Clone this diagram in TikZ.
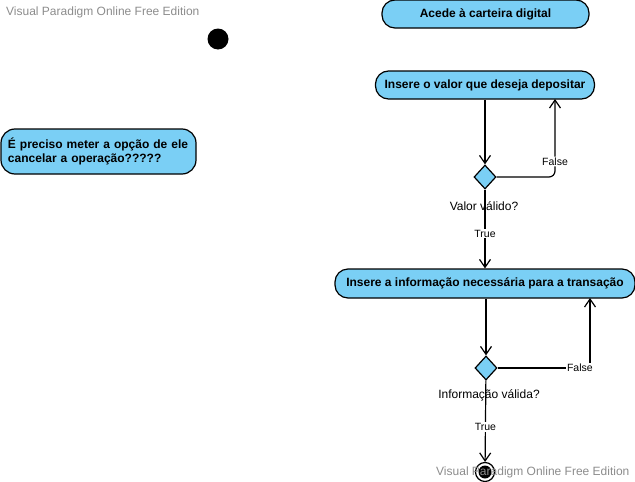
\documentclass[tikz,border=0pt]{standalone}
\usepackage{fontspec}
\setmainfont{Liberation Sans}
\usetikzlibrary{arrows.meta,positioning,shapes.geometric}
\definecolor{vpblue}{RGB}{122,207,245}
\definecolor{wmgray}{RGB}{140,140,140}

\begin{document}
\begin{tikzpicture}[x=1pt,y=-1pt,
  act/.style={draw,line width=1.2pt,fill=vpblue,rounded corners=13pt,
   font=\bfseries\fontsize{12}{14}\selectfont,minimum height=28pt,inner sep=0pt},
  choice/.style={diamond,draw,line width=1.2pt,fill=vpblue,
   minimum width=22pt,minimum height=24pt,inner sep=0pt},
  flow/.style={line width=1.2pt,-{Straight Barb[length=8pt,width=11pt]}},
  guard/.style={fill=white,inner sep=1pt,font=\fontsize{10.5}{12}\selectfont},
  cond/.style={font=\fontsize{12}{14}\selectfont},
  wmark/.style={text=wmgray,inner sep=0pt,font=\fontsize{12}{14}\selectfont}]

 \useasboundingbox (0,0) rectangle (635,482);

 \node[wmark,anchor=west] (wmtop) at (6,12) {Visual Paradigm Online Free Edition};

 \node[circle,fill=black,minimum size=21pt,inner sep=0pt] (init) at (218,39) {};

 \node[act,minimum width=207pt] (acede) at (485.5,14) {Acede à carteira digital};
 \node[act,minimum width=219pt] (valor) at (485,85) {Insere o valor que deseja depositar};

 \node[act,align=left,text width=181pt,inner xsep=7pt,minimum height=45pt,
  rounded corners=14pt] (nota) at (98.5,151.5)
  {É preciso meter a opção de ele\\cancelar a operação?????};

 \node[choice] (dec1) at (485,177) {};
 \node[cond] (labdec1) at (484,206) {Valor válido?};

 \node[act,minimum width=300pt,minimum height=29pt] (info) at (485,283.5)
  {Insere a informação necessária para a transação};

 \node[choice] (dec2) at (486,368) {};
 \node[cond] (labdec2) at (489,395) {Informação válida?};

 \node[circle,draw,line width=1.2pt,minimum size=19pt,inner sep=0pt] (fin) at (485,472) {};
 \node[circle,fill=black,minimum size=13pt,inner sep=0pt] (finin) at (fin) {};

 \coordinate (back1) at (555,99);
 \coordinate (back2) at (590,298);

 \draw[flow] (valor) -- (dec1);
 \draw[flow,rounded corners=6pt] (dec1.east) -| (back1)
  node[guard,pos=0.6] {False};
 \draw[flow] (dec1) -- (info) node[guard,pos=0.56] {True};

 \draw[flow] (info.south -| dec2) -- (dec2);
 \draw[flow] (dec2.east) -| (back2) node[guard,pos=0.445] {False};
 \draw[flow] (dec2) -- (fin) node[guard,pos=0.57] {True};

 \node[wmark,anchor=west] (wmbot) at (436,472) {Visual Paradigm Online Free Edition};
\end{tikzpicture}
\end{document}
